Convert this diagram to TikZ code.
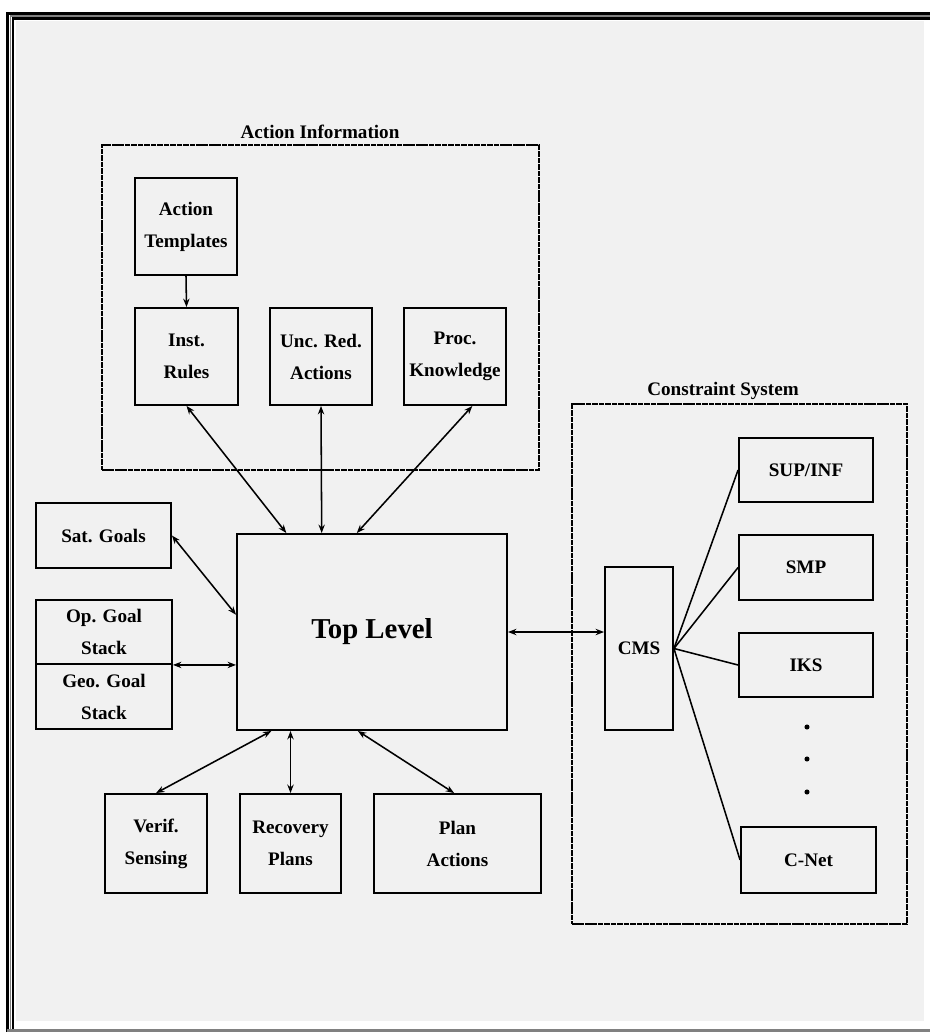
\documentclass[tikz,border=0pt]{standalone}
\usepackage{fontspec}
\setmainfont{Liberation Serif}
\usetikzlibrary{arrows.meta,calc}
\definecolor{panel}{RGB}{241,241,241}
\newcommand\lbl{\fontsize{13.6}{22.8}\selectfont\bfseries}
\begin{document}
\begin{tikzpicture}[x=0.025cm,y=-0.025cm,
  box/.style={draw, line width=1.3pt, align=center, inner sep=0pt, font=\lbl},
  grp/.style={draw, line width=1.4pt, dash pattern=on 4pt off 0.6pt, inner sep=0pt},
  ttl/.style={font=\lbl, inner sep=0pt},
  conn/.style={line width=1.1pt, {Stealth[length=6pt,width=4.5pt]}-{Stealth[length=6pt,width=4.5pt]}},
  oneway/.style={line width=1.1pt, -{Stealth[length=6pt,width=4.5pt]}},
  link/.style={line width=1.1pt},
  dot/.style={circle, fill=black, inner sep=0pt, minimum size=3.6pt}]
\useasboundingbox (0,0) rectangle (930,1032);
% frame
\fill[panel] (16,21) rectangle (924,1021);
\draw[line width=2.2pt] (7.5,1032) -- (7.5,13.5) -- (930,13.5);
\draw[gray, line width=1.2pt] (10.5,1032) -- (10.5,16) -- (930,16);
\draw[line width=1.5pt] (13,1032) -- (13,18.5) -- (930,18.5);
\draw[gray, line width=1.6pt] (7,1030.5) -- (930,1030.5);
% group boxes
\node[grp, minimum width=10.925cm, minimum height=8.125cm] (AI) at (320.5,307.5) {};
\node[ttl] (AIt) at (320,132) {Action Information};
\node[grp, minimum width=8.375cm, minimum height=13cm] (CS) at (739.5,664) {};
\node[ttl] (CSt) at (723,391) {Constraint System};
% action information boxes
\node[box, minimum width=2.55cm, minimum height=2.425cm] (AT) at (186,226.5) {Action\\Templates};
\node[box, minimum width=2.575cm, minimum height=2.425cm] (IR) at (186.5,356.5) {Inst.\\Rules};
\node[box, minimum width=2.55cm, minimum height=2.425cm] (UR) at (321,356.5) {Unc. Red.\\Actions};
\node[box, minimum width=2.55cm, minimum height=2.425cm] (PK) at (455,356.5) {Proc.\\Knowledge};
% top level
\node[box, minimum width=6.75cm, minimum height=4.9cm, font=\fontsize{20.5}{24}\selectfont\bfseries] (TL) at (372,632) {Top Level};
% left boxes
\node[box, minimum width=3.375cm, minimum height=1.625cm] (SG) at (103.5,535.5) {Sat. Goals};
\node[box, minimum width=3.4cm, minimum height=1.6cm] (OG) at (104,632) {Op. Goal\\Stack};
\node[box, minimum width=3.4cm, minimum height=1.625cm] (GG) at (104,696.5) {Geo. Goal\\Stack};
% bottom boxes
\node[box, minimum width=2.55cm, minimum height=2.475cm] (VS) at (156,843.5) {Verif.\\Sensing};
\node[box, minimum width=2.525cm, minimum height=2.475cm] (RP) at (290.5,843.5) {Recovery\\Plans};
\node[box, minimum width=4.175cm, minimum height=2.475cm] (PA) at (457.5,843.5) {Plan\\Actions};
% constraint system
\node[box, minimum width=1.7cm, minimum height=4.075cm] (CMS) at (639,648.5) {CMS};
\node[box, minimum width=3.35cm, minimum height=1.6cm] (SUP) at (806,470) {SUP/INF};
\node[box, minimum width=3.35cm, minimum height=1.625cm] (SMP) at (806,567.5) {SMP};
\node[box, minimum width=3.35cm, minimum height=1.6cm] (IKS) at (806,665) {IKS};
\node[box, minimum width=3.375cm, minimum height=1.65cm] (CN) at (808.5,860) {C-Net};
\node[dot] (d1) at (807,727) {};
\node[dot] (d2) at (807,759) {};
\node[dot] (d3) at (807,792) {};
% connectors
\draw[oneway] (AT.south) -- (IR.north);
\draw[conn] (IR.south) -- ($(TL.north west)!0.185!(TL.north east)$);
\draw[conn] (UR.south) -- ($(TL.north west)!0.315!(TL.north east)$);
\draw[conn] ($(PK.south west)!0.667!(PK.south east)$) -- ($(TL.north west)!0.444!(TL.north east)$);
\draw[conn] (SG.east) -- ($(TL.north west)!0.413!(TL.south west)$);
\draw[conn] (OG.south east) -- (OG.south east -| TL.west);
\draw[conn] (TL.east) -- (TL.east -| CMS.west);
\draw[conn] (VS.north) -- ($(TL.south west)!0.13!(TL.south east)$);
\draw[conn] (RP.north) -- (RP.north |- TL.south);
\draw[conn] ($(PA.north west)!0.48!(PA.north east)$) -- ($(TL.south west)!0.448!(TL.south east)$);
\draw[link] (CMS.east) -- (SUP.west);
\draw[link] (CMS.east) -- (SMP.west);
\draw[link] (CMS.east) -- (IKS.west);
\draw[link] (CMS.east) -- (CN.west);
\end{tikzpicture}
\end{document}
